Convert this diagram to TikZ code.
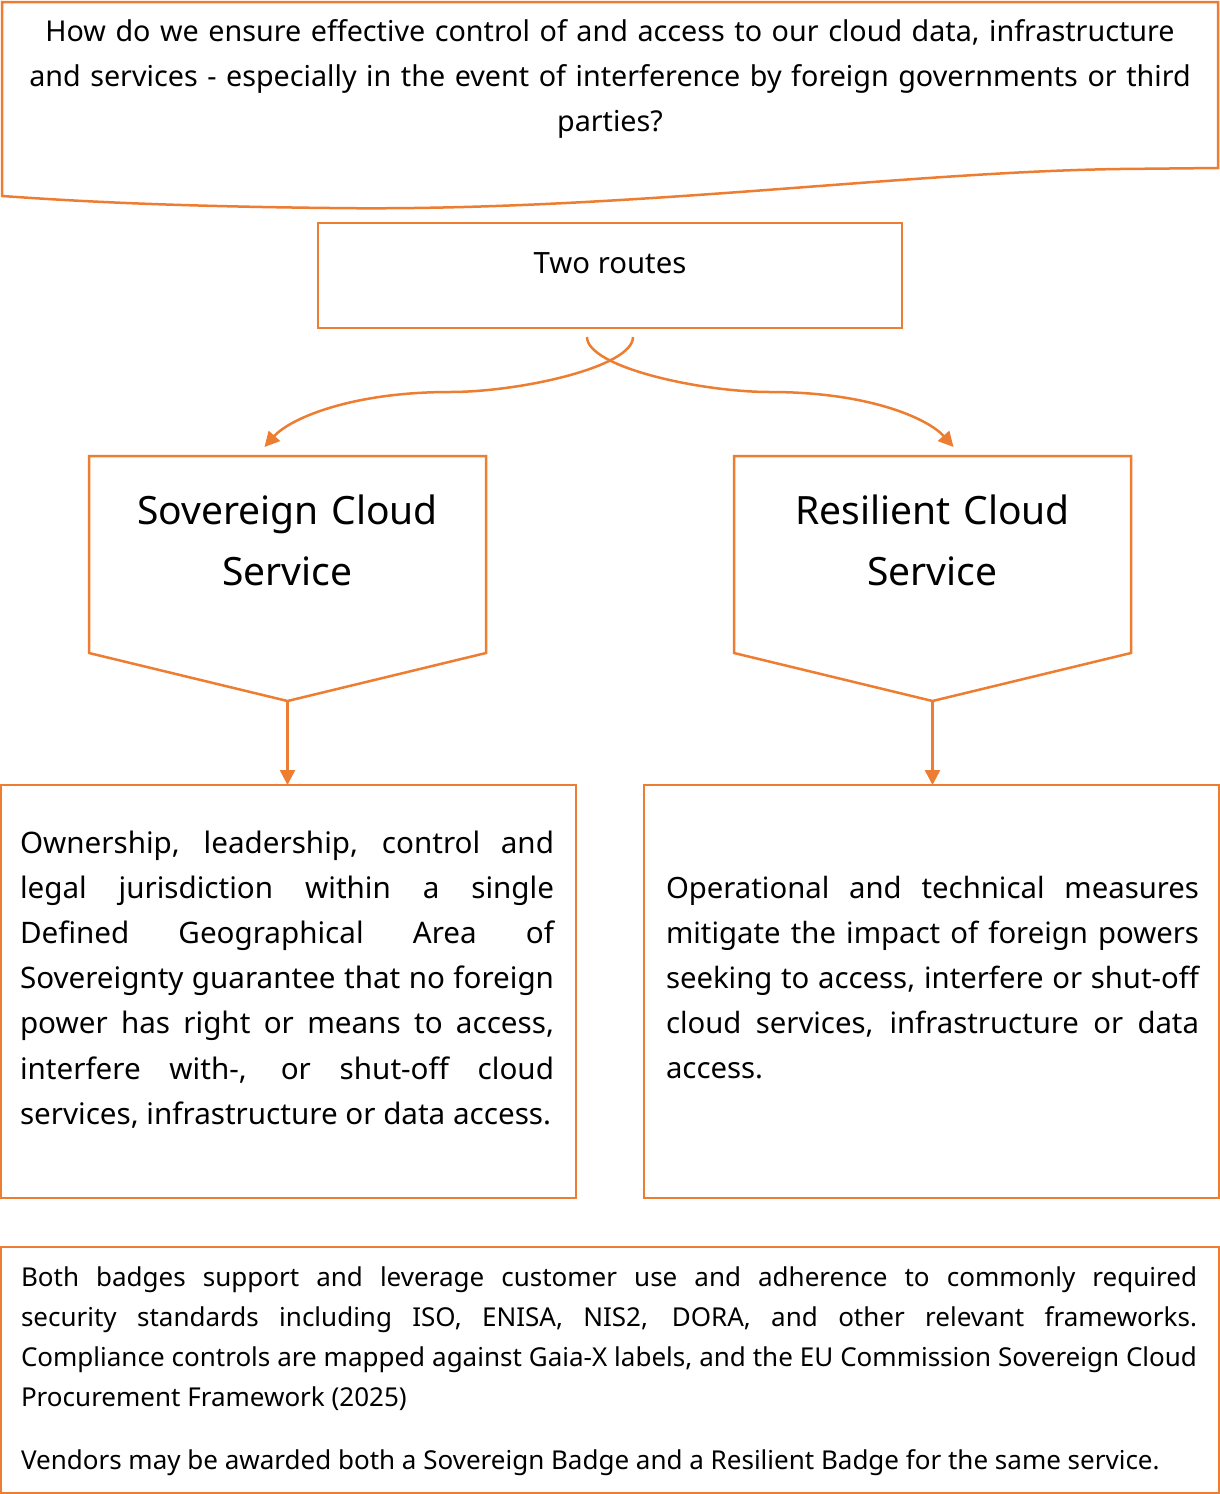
\documentclass[tikz,border=0pt]{standalone}
\usepackage{fontspec}
\setmainfont{Noto Sans}
\usetikzlibrary{arrows.meta,calc}
\definecolor{acc}{HTML}{ED7D31}
\hyphenpenalty=10000
\exhyphenpenalty=10000
\tolerance=10000
\begin{document}
\begin{tikzpicture}[x=1pt,y=-1pt,
  frame/.style={draw=acc,line width=2.5pt,line join=miter},
  boxnode/.style={draw=acc,line width=2.5pt,inner sep=0pt,outer sep=0pt,rectangle,anchor=north west},
  shapebox/.style={draw=none,inner sep=0pt,outer sep=0pt,rectangle,anchor=north west},
  txt/.style={inner sep=0pt,outer sep=0pt,text=black,font=\fontsize{29.3}{45.2}\selectfont},
  toptxt/.style={inner sep=0pt,outer sep=0pt,text=black,font=\fontsize{28.7}{45}\selectfont},
  lefttxt/.style={inner sep=0pt,outer sep=0pt,text=black,font=\fontsize{29.6}{45.2}\selectfont},
  bigtxt/.style={inner sep=0pt,outer sep=0pt,text=black,font=\fontsize{39}{61}\selectfont},
  smalltxt/.style={inner sep=0pt,outer sep=0pt,text=black,font=\fontsize{26}{40}\selectfont},
  arr/.style={draw=acc,line width=2.5pt,-{Triangle[length=15pt,width=15pt]}}]
\useasboundingbox (0,0) rectangle (1220,1494);
\fill[white] (0,0) rectangle (1220,1494);
% top question shape
\draw[frame] (2,2) -- (1218,2) -- (1218,168) -- (1120,169)
  .. controls (900,172) and (620,212) .. (330,208)
  .. controls (150,206) and (60,200) .. (2,196) -- cycle;
\node[toptxt,text width=1200pt,align=center,anchor=base] (q) at (610,41)
  {How do we ensure effective control of and access to our cloud data, infrastructure\\
   and services - especially in the event of interference by foreign governments or third\\
   parties?};
% two routes
\node[boxnode,minimum width=584pt,minimum height=105pt] (routes) at (318,223) {};
\node[txt,anchor=base] (routestxt) at (610,273) {Two routes};
% pentagons
\node[shapebox,minimum width=397pt,minimum height=197pt] (sov) at (89,456) {};
\node[shapebox,minimum width=397pt,minimum height=197pt] (res) at (734,456) {};
\coordinate (sovtip) at ($(sov.south)+(0,48)$);
\coordinate (restip) at ($(res.south)+(0,48)$);
\draw[frame] (sov.north west) -- (sov.north east) -- (sov.south east) -- (sovtip) -- (sov.south west) -- cycle;
\draw[frame] (res.north west) -- (res.north east) -- (res.south east) -- (restip) -- (res.south west) -- cycle;
\node[bigtxt,text width=397pt,align=center,anchor=base] (sovtxt) at (287.5,524) {Sovereign Cloud\\Service};
\node[bigtxt,text width=397pt,align=center,anchor=base] (restxt) at (932.5,524) {Resilient Cloud\\Service};
% curved arrows
\coordinate (r1) at ($(routes.south)+(23,9)$);
\coordinate (r2) at ($(routes.south)+(-23,9)$);
\coordinate (lmid) at (450,392);
\coordinate (rmid) at (770,392);
\coordinate (ltip) at ($(sov.north)+(-23,-9)$);
\coordinate (rtip) at ($(res.north)+(21,-9)$);
\draw[arr] (r1) .. controls +(0,30) and +(70,0) .. (lmid)
  .. controls +(-100,0) and +(25,-28) .. (ltip);
\draw[arr] (r2) .. controls +(0,30) and +(-70,0) .. (rmid)
  .. controls +(100,0) and +(-25,-28) .. (rtip);
% lower boxes
\node[boxnode,minimum width=575pt,minimum height=413pt] (lbox) at (1.2,785) {};
\node[boxnode,minimum width=574.8pt,minimum height=413pt] (rbox) at (644,785) {};
\draw[arr] (sovtip) -- (sovtip |- lbox.north);
\draw[arr] (restip) -- (restip |- rbox.north);
\node[lefttxt,text width=534pt,align=justify,anchor=base west] (ltxt) at (20,853)
  {Ownership, leadership, control and\linebreak
   legal jurisdiction within a single\linebreak
   Defined Geographical Area of\linebreak
   Sovereignty guarantee that no foreign\linebreak
   power has right or means to access,\linebreak
   interfere with-, or shut-off cloud\linebreak
   services, infrastructure or data access.};
\node[txt,text width=533pt,align=justify,anchor=base west] (rtxt) at (666,898)
  {Operational and technical measures\linebreak
   mitigate the impact of foreign powers\linebreak
   seeking to access, interfere or shut-off\linebreak
   cloud services, infrastructure or data\linebreak
   access.};
% bottom box
\node[boxnode,minimum width=1217.6pt,minimum height=245.6pt] (foot) at (1.2,1247.2) {};
\node[smalltxt,text width=1176pt,align=justify,anchor=base west] (ftxt) at (21,1286)
  {Both badges support and leverage customer use and adherence to commonly required\linebreak
   security standards including ISO, ENISA, NIS2, DORA, and other relevant frameworks.\linebreak
   Compliance controls are mapped against Gaia-X labels, and the EU Commission Sovereign Cloud\linebreak
   Procurement Framework (2025)\par\vspace{23pt}
   Vendors may be awarded both a Sovereign Badge and a Resilient Badge for the same service.};
\end{tikzpicture}
\end{document}
